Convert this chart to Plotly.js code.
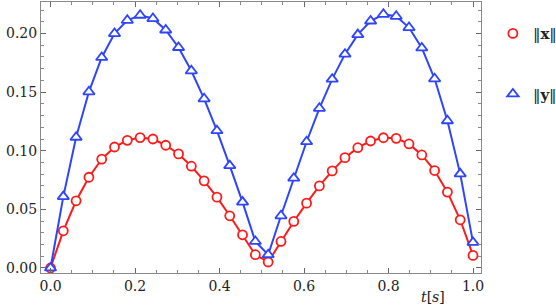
<!DOCTYPE html>
<html>
<head>
<meta charset="utf-8">
<script src="https://cdn.plot.ly/plotly-3.0.1.min.js"></script>
<style>html,body{margin:0;padding:0;background:#fff;}#chart{width:556px;height:308px;}</style>
</head>
<body>
<div id="chart"></div>
<script>
// t = k/33, k = 0..33
var tValues = [0, 0.0303, 0.0606, 0.0909, 0.1212, 0.1515, 0.1818, 0.2121, 0.2424, 0.2727,
  0.3030, 0.3333, 0.3636, 0.3939, 0.4242, 0.4545, 0.4848, 0.5152, 0.5455, 0.5758,
  0.6061, 0.6364, 0.6667, 0.6970, 0.7273, 0.7576, 0.7879, 0.8182, 0.8485, 0.8788,
  0.9091, 0.9394, 0.9697, 1.0];
var normX = [0.0, 0.0317, 0.0573, 0.0774, 0.0928, 0.1032, 0.1089, 0.1112, 0.1100, 0.1047,
  0.0973, 0.0868, 0.0743, 0.0604, 0.0445, 0.0283, 0.0113, 0.0051, 0.0226, 0.0397,
  0.0553, 0.0700, 0.0828, 0.0941, 0.1026, 0.1083, 0.1111, 0.1106, 0.1058, 0.0964,
  0.0831, 0.0647, 0.0411, 0.0107];
var normY = [0.0, 0.0609, 0.1115, 0.1503, 0.1796, 0.2000, 0.2113, 0.2156, 0.2128, 0.2030,
  0.1881, 0.1682, 0.1443, 0.1171, 0.0873, 0.0562, 0.0226, 0.0113, 0.0445, 0.0766,
  0.1077, 0.1362, 0.1611, 0.1824, 0.1991, 0.2107, 0.2164, 0.2147, 0.2051, 0.1877,
  0.1614, 0.1256, 0.0803, 0.0218];
var seriesNames = ['\u2016<b>x</b>\u2016', '\u2016<b>y</b>\u2016'];
var xTickVals = [0, 0.2, 0.4, 0.6, 0.8, 1.0];
var xTickText = ['0.0', '0.2', '0.4', '0.6', '0.8', '1.0'];
var yTickVals = [0, 0.05, 0.10, 0.15, 0.20];
var yTickText = ['0.00', '0.05', '0.10', '0.15', '0.20'];

var RED = '#ff1a1a', BLUE = '#2e44ff';
var FONT = 'DejaVu Serif';

var traces = [
  {x: tValues, y: normX, mode: 'lines+markers', showlegend: false,
   line: {color: RED, width: 2},
   marker: {symbol: 'circle', size: 9, color: '#fff', line: {color: RED, width: 1.8}}},
  {x: tValues, y: normY, mode: 'lines+markers', showlegend: false,
   line: {color: BLUE, width: 2},
   marker: {symbol: 'triangle-up', size: 10, color: '#fff', line: {color: BLUE, width: 1.8}}},
  {x: [null], y: [null], mode: 'markers', name: seriesNames[0], legendgroup: 'a',
   marker: {symbol: 'circle', size: 9, color: '#fff', line: {color: RED, width: 1.8}}},
  {x: [null], y: [null], mode: 'markers', name: seriesNames[1], legendgroup: 'b',
   marker: {symbol: 'triangle-up', size: 10, color: '#fff', line: {color: BLUE, width: 1.8}}}
];

var axisCommon = {
  showgrid: false, zeroline: false, showline: true, linecolor: '#8a8a8a', linewidth: 1,
  mirror: 'allticks', ticks: 'inside', ticklen: 5, tickwidth: 1, tickcolor: '#666',
  tickfont: {family: FONT, size: 14, color: '#222'}
};

var layout = {
  width: 556, height: 308,
  margin: {l: 41, r: 75, t: 2, b: 35, autoexpand: false},
  paper_bgcolor: '#fff', plot_bgcolor: '#fff',
  font: {family: FONT, size: 14, color: '#222'},
  xaxis: Object.assign({}, axisCommon, {
    range: [-0.0225, 1.0189], tickmode: 'array', tickvals: xTickVals, ticktext: xTickText,
    minor: {dtick: 0.05, ticks: 'inside', ticklen: 3, tickcolor: '#888'}
  }),
  yaxis: Object.assign({}, axisCommon, {
    range: [-0.0043, 0.2269], tickmode: 'array', tickvals: yTickVals, ticktext: yTickText,
    minor: {dtick: 0.01, ticks: 'inside', ticklen: 3, tickcolor: '#888'}
  }),
  showlegend: true,
  legend: {x: 1.027, xanchor: 'left', y: 0.944, yanchor: 'top', traceorder: 'grouped',
           tracegroupgap: 38, font: {family: FONT, size: 15, color: '#222'},
           bgcolor: 'rgba(0,0,0,0)', borderwidth: 0},
  annotations: [
    {text: '<i>t</i>[<i>s</i>]', xref: 'paper', yref: 'paper', x: (433 - 41) / 440, y: -0.09,
     xanchor: 'center', yanchor: 'middle', showarrow: false,
     font: {family: FONT, size: 14, color: '#222'}}
  ]
};

Plotly.newPlot('chart', traces, layout, {staticPlot: true, displayModeBar: false});
</script>
</body>
</html>
